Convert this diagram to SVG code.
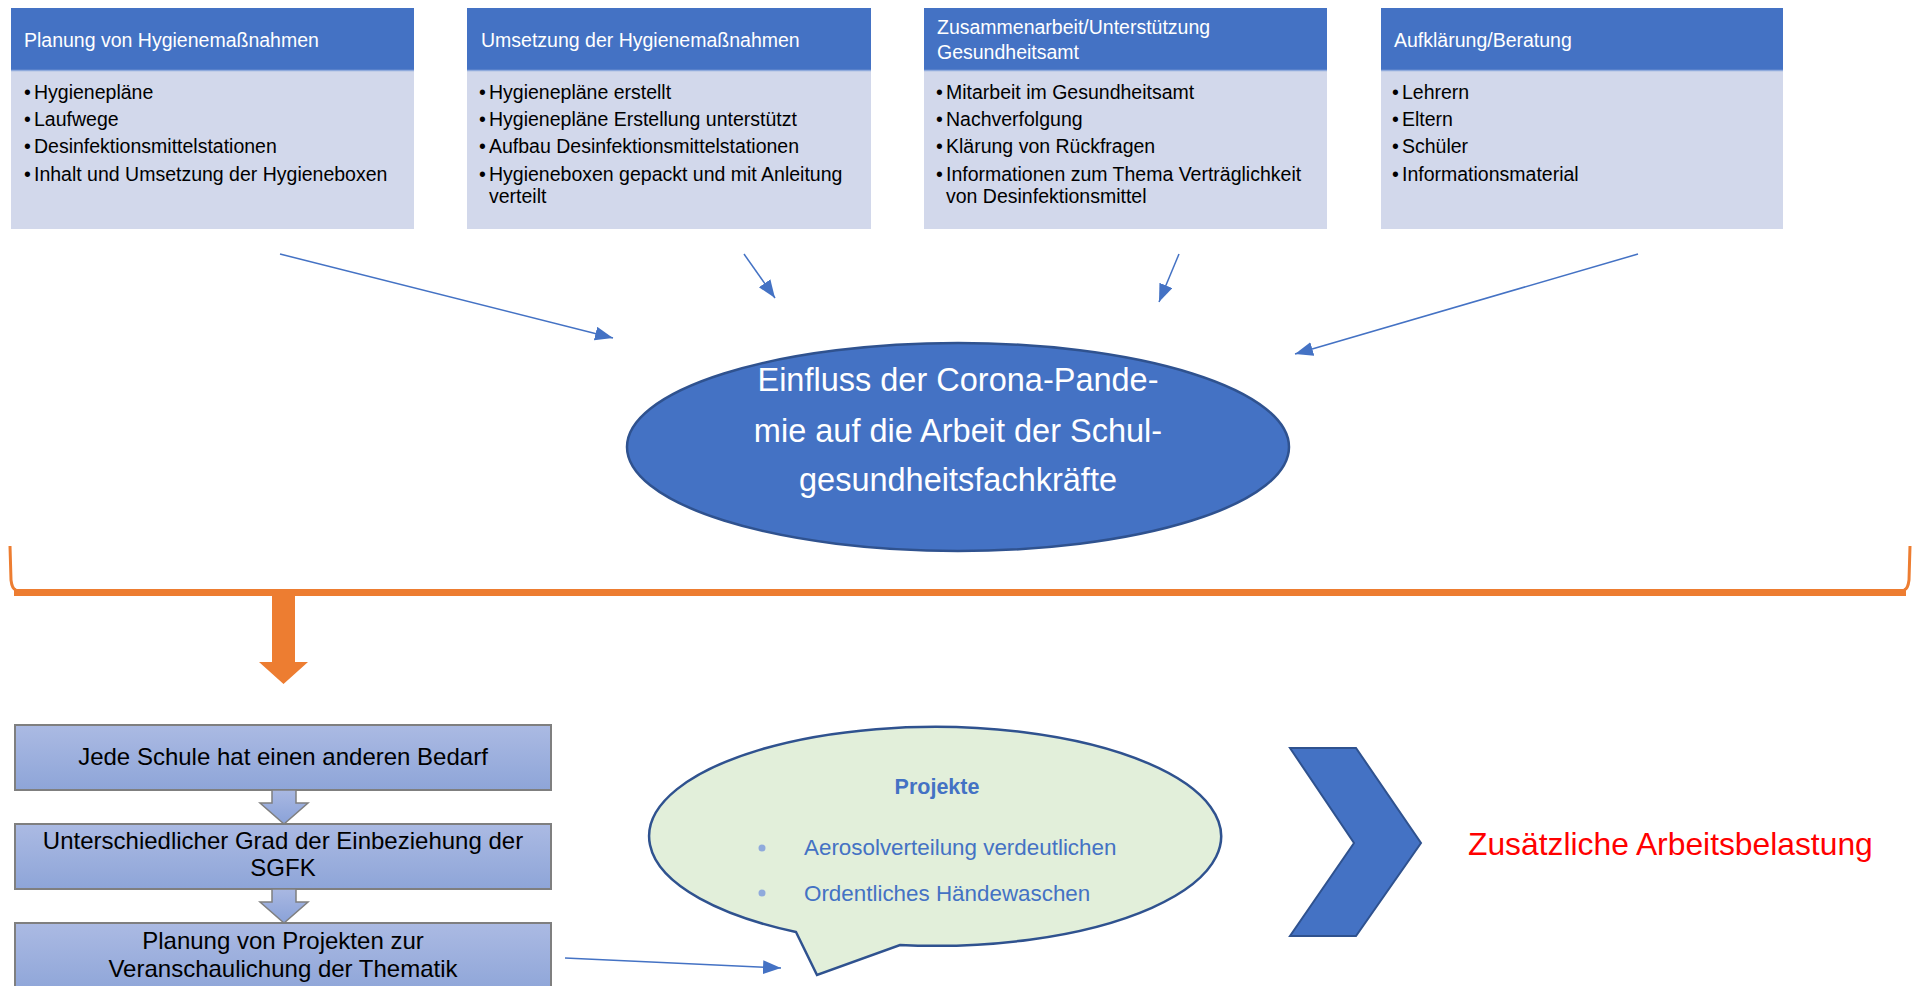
<svg xmlns="http://www.w3.org/2000/svg" width="1923" height="986" viewBox="0 0 1923 986">
<defs>
<style>
text{font-family:"Liberation Sans",Arial,sans-serif}
.hdr{fill:#4472C4}
.body{fill:#D2D8EB}
.sep{stroke:#8FAADC;stroke-width:1.5}
.ht{fill:#FFFFFF;font-size:19.5px}
.bt{fill:#000000;font-size:19.5px}
.conn{stroke:#4472C4;stroke-width:1.5;fill:none}
.flow{fill:url(#g1);stroke:#7F7F7F;stroke-width:2}
.ft{fill:#000000;font-size:24px;text-anchor:middle}
.small{fill:url(#g2);stroke:#7F7F7F;stroke-width:1.5}
.bub{fill:#4472C4;font-size:22.4px}
</style>
<linearGradient id="g1" x1="0" y1="0" x2="0" y2="1">
<stop offset="0" stop-color="#ABBAE3"/>
<stop offset="1" stop-color="#8EA5D8"/>
</linearGradient>
<linearGradient id="g2" x1="0" y1="0" x2="0" y2="1">
<stop offset="0" stop-color="#A9B8E2"/>
<stop offset="1" stop-color="#8AA2D8"/>
</linearGradient>
<marker id="ah" markerUnits="userSpaceOnUse" markerWidth="20" markerHeight="16" refX="18" refY="7" orient="auto">
<path d="M0,0 L18,7 L0,14 Z" fill="#4472C4"/>
</marker>
</defs>
<rect width="1923" height="986" fill="#FFFFFF"/>

<g id="box1">
<rect class="body" x="11" y="70" width="403" height="159"/>
<rect class="hdr" x="11" y="8" width="403" height="62"/>
<line class="sep" x1="11" y1="70.5" x2="414" y2="70.5"/>
<text class="ht" x="24" y="47">Planung von Hygienemaßnahmen</text>
<text class="bt" x="24" y="99">•</text><text class="bt" x="34" y="99">Hygienepläne</text>
<text class="bt" x="24" y="126">•</text><text class="bt" x="34" y="126">Laufwege</text>
<text class="bt" x="24" y="153">•</text><text class="bt" x="34" y="153">Desinfektionsmittelstationen</text>
<text class="bt" x="24" y="181">•</text><text class="bt" x="34" y="181">Inhalt und Umsetzung der Hygieneboxen</text>
</g>

<g id="box2">
<rect class="body" x="467" y="70" width="404" height="159"/>
<rect class="hdr" x="467" y="8" width="404" height="62"/>
<line class="sep" x1="467" y1="70.5" x2="871" y2="70.5"/>
<text class="ht" x="481" y="47">Umsetzung der Hygienemaßnahmen</text>
<text class="bt" x="479" y="99">•</text><text class="bt" x="489" y="99">Hygienepläne erstellt</text>
<text class="bt" x="479" y="126">•</text><text class="bt" x="489" y="126">Hygienepläne Erstellung unterstützt</text>
<text class="bt" x="479" y="153">•</text><text class="bt" x="489" y="153">Aufbau Desinfektionsmittelstationen</text>
<text class="bt" x="479" y="181">•</text><text class="bt" x="489" y="181">Hygieneboxen gepackt und mit Anleitung</text>
<text class="bt" x="489" y="203">verteilt</text>
</g>

<g id="box3">
<rect class="body" x="924" y="70" width="403" height="159"/>
<rect class="hdr" x="924" y="8" width="403" height="62"/>
<line class="sep" x1="924" y1="70.5" x2="1327" y2="70.5"/>
<text class="ht" x="937" y="34">Zusammenarbeit/Unterstützung</text>
<text class="ht" x="937" y="59">Gesundheitsamt</text>
<text class="bt" x="936" y="99">•</text><text class="bt" x="946" y="99">Mitarbeit im Gesundheitsamt</text>
<text class="bt" x="936" y="126">•</text><text class="bt" x="946" y="126">Nachverfolgung</text>
<text class="bt" x="936" y="153">•</text><text class="bt" x="946" y="153">Klärung von Rückfragen</text>
<text class="bt" x="936" y="181">•</text><text class="bt" x="946" y="181">Informationen zum Thema Verträglichkeit</text>
<text class="bt" x="946" y="203">von Desinfektionsmittel</text>
</g>

<g id="box4">
<rect class="body" x="1381" y="70" width="402" height="159"/>
<rect class="hdr" x="1381" y="8" width="402" height="62"/>
<line class="sep" x1="1381" y1="70.5" x2="1783" y2="70.5"/>
<text class="ht" x="1394" y="47">Aufklärung/Beratung</text>
<text class="bt" x="1392" y="99">•</text><text class="bt" x="1402" y="99">Lehrern</text>
<text class="bt" x="1392" y="126">•</text><text class="bt" x="1402" y="126">Eltern</text>
<text class="bt" x="1392" y="153">•</text><text class="bt" x="1402" y="153">Schüler</text>
<text class="bt" x="1392" y="181">•</text><text class="bt" x="1402" y="181">Informationsmaterial</text>
</g>

<g id="center">
<ellipse cx="958" cy="447" rx="331" ry="104" fill="#4472C4" stroke="#2F528F" stroke-width="2.5"/>
<text x="958" y="391" fill="#FFFFFF" font-size="32.5" text-anchor="middle">Einfluss der Corona-Pande-</text>
<text x="958" y="442" fill="#FFFFFF" font-size="32.5" text-anchor="middle">mie auf die Arbeit der Schul-</text>
<text x="958" y="491" fill="#FFFFFF" font-size="32.5" text-anchor="middle">gesundheitsfachkräfte</text>
</g>

<g id="brace">
<path d="M10,546 L11,580 Q12,589 16,590" fill="none" stroke="#ED7D31" stroke-width="3"/>
<path d="M1910,546 L1909,580 Q1908,589 1904,590" fill="none" stroke="#ED7D31" stroke-width="3"/>
<rect x="14" y="589" width="1892" height="7" fill="#ED7D31"/>
<path d="M272,596 L295,596 L295,662 L308,662 L283.5,684 L259,662 L272,662 Z" fill="#ED7D31"/>
</g>

<g id="flow1">
<rect class="flow" x="15" y="725" width="536" height="65"/>
<text class="ft" x="283" y="765">Jede Schule hat einen anderen Bedarf</text>
</g>
<g id="flow2">
<rect class="flow" x="15" y="824" width="536" height="65"/>
<text class="ft" x="283" y="849">Unterschiedlicher Grad der Einbeziehung der</text>
<text class="ft" x="283" y="876">SGFK</text>
</g>
<g id="flow3">
<rect class="flow" x="15" y="923" width="536" height="70"/>
<text class="ft" x="283" y="949">Planung  von Projekten zur</text>
<text class="ft" x="283" y="977">Veranschaulichung der Thematik</text>
</g>

<g id="bubble">
<path d="M796,932 A286,109.5 0 1 1 900,945 L817,975 Z" fill="#E2EFDA" stroke="#2F528F" stroke-width="2.5"/>
<text x="937" y="794" fill="#4472C4" font-size="21.5" font-weight="bold" text-anchor="middle">Projekte</text>
<circle cx="762" cy="848" r="3.5" fill="#8FAADC"/>
<text class="bub" x="804" y="855">Aerosolverteilung verdeutlichen</text>
<circle cx="762" cy="893" r="3.5" fill="#8FAADC"/>
<text class="bub" x="804" y="901">Ordentliches Händewaschen</text>
</g>

<g id="chevron">
<polygon points="1290,748 1356,748 1421,843 1356,936 1290,936 1354,843" fill="#4472C4" stroke="#2F528F" stroke-width="2"/>
</g>

<g id="result">
<text x="1468" y="855" fill="#FF0000" font-size="31.8">Zusätzliche Arbeitsbelastung</text>
</g>

<g id="connectors">
<line class="conn" x1="280" y1="254" x2="613" y2="338" marker-end="url(#ah)"/>
<line class="conn" x1="744" y1="254" x2="775" y2="298" marker-end="url(#ah)"/>
<line class="conn" x1="1179" y1="254" x2="1159" y2="302" marker-end="url(#ah)"/>
<line class="conn" x1="1638" y1="254" x2="1295" y2="354" marker-end="url(#ah)"/>
<path class="small" d="M272,790 L296,790 L296,803 L308,803 L284,824 L260,803 L272,803 Z"/>
<path class="small" d="M272,889 L296,889 L296,902 L308,902 L284,923 L260,902 L272,902 Z"/>
<line class="conn" x1="565" y1="958" x2="781" y2="968" marker-end="url(#ah)"/>
</g>
</svg>
